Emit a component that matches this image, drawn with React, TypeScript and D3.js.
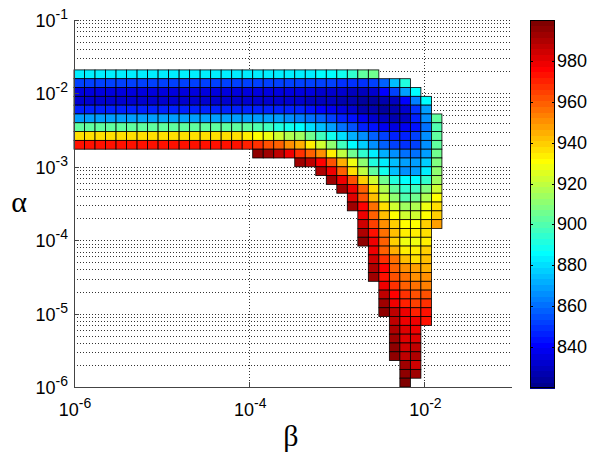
import * as d3 from "d3";

// grid of the pcolor cells: log10 edges start at -6 and step 0.12 decades
const LOG_START = -6;
const LOG_STEP = 0.12;

// first column of every row, listed from the top row (k = 35) down to k = 0
const rowStart = [
  0, 0, 0, 0, 0, 0, 0, 0, 0, 17, 21, 23, 24, 25, 26, 26, 27, 27, 27, 27, 28, 28,
  28, 28, 29, 29, 29, 29, 30, 30, 30, 30, 30, 31, 31, 31,
];

// cell values per row (same order as rowStart)
const rowValues: number[][] = [
  [882, 882, 882, 882, 882, 882, 882, 882, 882, 883, 883, 883, 883, 883, 883, 883, 883, 883, 884, 884, 884, 884, 884, 885, 886, 888, 895, 902, 907],
  [852, 852, 852, 852, 852, 852, 852, 852, 852, 852, 852, 852, 852, 852, 852, 852, 852, 852, 852, 852, 852, 852, 852, 851, 851, 850, 850, 850, 852, 858, 874, 893],
  [836, 836, 836, 836, 836, 836, 836, 836, 836, 836, 836, 836, 836, 836, 836, 836, 836, 836, 836, 836, 836, 835, 835, 834, 833, 832, 831, 831, 833, 840, 852, 870, 886],
  [833, 833, 833, 833, 833, 833, 833, 833, 833, 833, 833, 833, 833, 833, 833, 833, 833, 833, 833, 833, 833, 832, 831, 830, 829, 828, 826, 825, 825, 826, 830, 842, 864, 886],
  [847, 847, 847, 847, 847, 847, 847, 847, 847, 847, 847, 847, 847, 847, 847, 847, 847, 847, 847, 847, 847, 846, 845, 842, 839, 836, 832, 828, 826, 825, 826, 832, 850, 870],
  [870, 870, 870, 870, 870, 870, 870, 870, 870, 870, 870, 870, 870, 870, 870, 870, 870, 870, 869, 868, 866, 864, 861, 857, 852, 848, 843, 838, 834, 830, 828, 831, 846, 866, 903],
  [903, 903, 903, 903, 903, 903, 903, 903, 903, 903, 903, 903, 903, 903, 903, 903, 903, 900, 897, 893, 889, 885, 880, 874, 868, 862, 855, 848, 843, 839, 836, 838, 845, 862, 900],
  [938, 938, 938, 938, 938, 938, 938, 938, 938, 938, 938, 938, 938, 938, 938, 936, 934, 930, 927, 922, 918, 913, 906, 897, 888, 880, 872, 865, 858, 852, 848, 848, 852, 865, 902],
  [973, 973, 973, 973, 973, 973, 973, 973, 973, 973, 973, 973, 973, 973, 973, 972, 970, 967, 962, 958, 952, 945, 935, 922, 910, 897, 887, 878, 867, 858, 852, 850, 852, 866, 902],
  [996, 993, 986, 978, 968, 960, 950, 935, 920, 906, 894, 883, 873, 866, 861, 861, 868, 906],
  [994, 986, 976, 962, 946, 927, 910, 893, 884, 874, 868, 868, 878, 909],
  [991, 978, 960, 937, 919, 902, 889, 876, 867, 869, 882, 911],
  [993, 980, 962, 940, 922, 905, 892, 886, 886, 895, 915],
  [993, 978, 958, 936, 918, 903, 894, 898, 908, 922],
  [983, 962, 942, 923, 910, 901, 906, 918, 930],
  [992, 975, 955, 936, 922, 913, 918, 928, 936],
  [978, 958, 942, 932, 923, 922, 930, 940],
  [984, 965, 952, 940, 932, 932, 940, 948],
  [990, 972, 955, 942, 934, 933, 938],
  [995, 978, 958, 940, 928, 927, 933],
  [978, 960, 945, 935, 933, 940],
  [985, 968, 955, 942, 937, 941],
  [990, 975, 960, 950, 947, 946],
  [993, 973, 962, 955, 952, 950],
  [979, 967, 960, 955, 953],
  [988, 975, 967, 961, 962],
  [992, 978, 970, 966, 968],
  [995, 988, 978, 970, 974],
  [986, 980, 978, 974],
  [990, 981, 980],
  [993, 983, 982],
  [995, 985, 988],
  [997, 988, 990],
  [993, 985],
  [995, 992],
  [998],
];

const xTicks = [1e-6, 1e-4, 1e-2];
const yTicks = [1e-6, 1e-5, 1e-4, 1e-3, 1e-2, 1e-1];
const colorTicks = [840, 860, 880, 900, 920, 940, 960, 980];
const colorDomain = [820, 1000];

const W = 600;
const H = 461;
const plot = { left: 74, right: 512, top: 20, bottom: 387 };
const bar = { left: 530, right: 555, top: 20, bottom: 388 };

// MATLAB jet(64)
function jet(i: number) {
  const n = 16;
  const u = (j: number) => {
    if (j < 1 || j > 47) return 0;
    if (j <= n) return j / n;
    if (j <= 31) return 1;
    return (48 - j) / n;
  };
  const c = i + 1;
  const r = u(c - 24);
  const g = u(c - 8);
  const b = u(c + 8);
  return d3.rgb(r * 255, g * 255, b * 255).formatHex();
}
const jetColors = d3.range(64).map(jet);

const colorOf = (v: number) => {
  const t = (v - colorDomain[0]) / (colorDomain[1] - colorDomain[0]);
  const idx = Math.max(0, Math.min(63, Math.floor(t * 64)));
  return jetColors[idx];
};

const x = d3.scaleLog().domain([1e-6, 1e-1]).range([plot.left, plot.right]);
const y = d3.scaleLog().domain([1e-6, 1e-1]).range([plot.bottom, plot.top]);
const cScale = d3.scaleLinear().domain(colorDomain).range([bar.bottom, bar.top]);

const edge = (i: number) => Math.pow(10, LOG_START + LOG_STEP * i);

const font = "'Liberation Sans', Arial, sans-serif";

function Pow({ e, ...rest }: any) {
  return (
    <text {...rest} fontFamily={font} fontSize={18} fill="#000">
      10
      <tspan dy={-8} fontSize={14}>{`-${e}`}</tspan>
    </text>
  );
}

export default function App() {
  const cells: any[] = [];
  rowValues.forEach((vals, r) => {
    const k = rowValues.length - 1 - r;
    vals.forEach((v, j) => {
      const col = rowStart[r] + j;
      const x0 = x(edge(col));
      const x1 = x(edge(col + 1));
      const y0 = y(edge(k + 1));
      const y1 = y(edge(k));
      cells.push(
        <rect
          key={`${k}-${col}`}
          x={x0}
          y={y0}
          width={x1 - x0}
          height={y1 - y0}
          fill={colorOf(v)}
          stroke="#000"
          strokeWidth={0.8}
        />
      );
    });
  });

  // y grid: every decade and minor step
  const yGrid: number[] = [];
  for (let d = -6; d <= -2; d++) {
    for (let m = 1; m <= 9; m++) yGrid.push(m * Math.pow(10, d));
  }
  yGrid.push(1e-1);

  const barSteps = d3.range(64);
  const stepH = (bar.bottom - bar.top) / 64;

  return (
    <svg
      width={W}
      height={H}
      style={{ position: "absolute", left: 0, top: 0, background: "#fff" }}
    >
      <rect x={0} y={0} width={W} height={H} fill="#fff" />
      <g stroke="#333" strokeWidth={1} strokeDasharray="1,2" shapeRendering="crispEdges">
        {yGrid.map((v, i) => (
          <line key={i} x1={plot.left} x2={plot.right} y1={Math.round(y(v)) + 0.5} y2={Math.round(y(v)) + 0.5} />
        ))}
        {xTicks.slice(1).map((v, i) => (
          <line key={i} x1={Math.round(x(v)) + 0.5} x2={Math.round(x(v)) + 0.5} y1={plot.top} y2={plot.bottom} />
        ))}
      </g>
      <g>{cells}</g>
      <g stroke="#444" strokeWidth={1} shapeRendering="crispEdges">
        <line x1={plot.left + 0.5} x2={plot.left + 0.5} y1={plot.top} y2={plot.bottom + 0.5} />
        <line x1={plot.left} x2={plot.right} y1={plot.bottom + 0.5} y2={plot.bottom + 0.5} />
        {xTicks.map((v, i) => (
          <line key={i} x1={Math.round(x(v)) + 0.5} x2={Math.round(x(v)) + 0.5} y1={plot.bottom} y2={plot.bottom - 5} />
        ))}
        {yTicks.map((v, i) => (
          <line key={i} x1={plot.left} x2={plot.left + 5} y1={Math.round(y(v)) + 0.5} y2={Math.round(y(v)) + 0.5} />
        ))}
      </g>
      {yTicks.map((v) => {
        const e = Math.round(-Math.log10(v));
        return <Pow key={e} e={e} x={68} y={y(v) + 7} textAnchor="end" />;
      })}
      {xTicks.map((v) => {
        const e = Math.round(-Math.log10(v));
        return <Pow key={e} e={e} x={x(v) + 1} y={416} textAnchor="middle" />;
      })}
      <text x={19} y={212} fontFamily="'Liberation Serif', 'DejaVu Serif', serif" fontSize={30} textAnchor="middle">α</text>
      <text x={291} y={446} fontFamily="'Liberation Serif', 'DejaVu Serif', serif" fontSize={30} textAnchor="middle">β</text>

      <g shapeRendering="crispEdges">
        {barSteps.map((i) => (
          <rect
            key={i}
            x={bar.left}
            y={bar.bottom - (i + 1) * stepH}
            width={bar.right - bar.left}
            height={stepH + 0.5}
            fill={jetColors[i]}
          />
        ))}
      </g>
      <rect x={bar.left + 0.5} y={bar.top + 0.5} width={bar.right - bar.left - 1} height={bar.bottom - bar.top - 1} fill="none" stroke="#000" />
      <g stroke="#000" shapeRendering="crispEdges">
        {colorTicks.map((v) => (
          <g key={v}>
            <line x1={bar.left} x2={bar.left + 3} y1={Math.round(cScale(v)) + 0.5} y2={Math.round(cScale(v)) + 0.5} />
            <line x1={bar.right - 3} x2={bar.right} y1={Math.round(cScale(v)) + 0.5} y2={Math.round(cScale(v)) + 0.5} />
          </g>
        ))}
      </g>
      {colorTicks.map((v) => (
        <text key={v} x={557} y={cScale(v) + 6} fontFamily={font} fontSize={18} fill="#000">
          {v}
        </text>
      ))}
    </svg>
  );
}
